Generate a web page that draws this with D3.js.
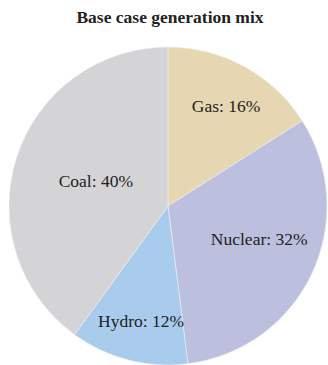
<!DOCTYPE html>
<html>
<head>
<meta charset="utf-8">
<script src="https://cdn.jsdelivr.net/npm/d3@7"></script>
<style>
  html, body { margin: 0; padding: 0; background: #fff; }
  svg { display: block; }
</style>
</head>
<body>
<svg id="chart" width="328" height="365"></svg>
<script>
// Generation mix, in percent, clockwise from 12 o'clock
const sources = ["Gas", "Nuclear", "Hydro", "Coal"];
const shares = [16, 32, 12, 40];
const title = "Base case generation mix";

const colors = ["#e6d6b2", "#bdbfdf", "#a9cbec", "#d4d4d6"];
// label placement: fraction of radius and angular nudge (degrees)
const labelLayout = [
  { r: 0.73, da: 1.2 },
  { r: 0.61, da: -5.3 },
  { r: 0.74, da: -1.2 },
  { r: 0.48, da: 1.0 }
];

const width = 328, height = 365;
const cx = 168, cy = 206, radius = 159;

const svg = d3.select("#chart");

svg.append("text")
  .attr("x", 170)
  .attr("y", 23)
  .attr("text-anchor", "middle")
  .attr("font-family", "Liberation Serif, Times New Roman, serif")
  .attr("font-weight", "bold")
  .attr("font-size", 17.5)
  .attr("fill", "#222")
  .text(title);

const data = sources.map((s, i) => ({ source: s, share: shares[i], i }));

const pie = d3.pie().value(d => d.share).sort(null);
const arcs = pie(data);
const arc = d3.arc().innerRadius(0).outerRadius(radius);

const g = svg.append("g").attr("transform", `translate(${cx},${cy})`);

g.selectAll("path.slice")
  .data(arcs)
  .join("path")
  .attr("class", "slice")
  .attr("d", arc)
  .attr("fill", d => colors[d.data.i])
  .attr("stroke", "#eef0f4")
  .attr("stroke-width", 0.6);

g.selectAll("text.label")
  .data(arcs)
  .join("text")
  .attr("class", "label")
  .attr("transform", d => {
    const L = labelLayout[d.data.i];
    const a = (d.startAngle + d.endAngle) / 2 + L.da * Math.PI / 180;
    const r = radius * L.r;
    return `translate(${r * Math.sin(a)},${-r * Math.cos(a)})`;
  })
  .attr("dy", "0.35em")
  .attr("text-anchor", "middle")
  .attr("font-family", "Liberation Serif, Times New Roman, serif")
  .attr("font-size", 17.5)
  .attr("fill", "#222")
  .text(d => `${d.data.source}: ${d.data.share}%`);
</script>
</body>
</html>
